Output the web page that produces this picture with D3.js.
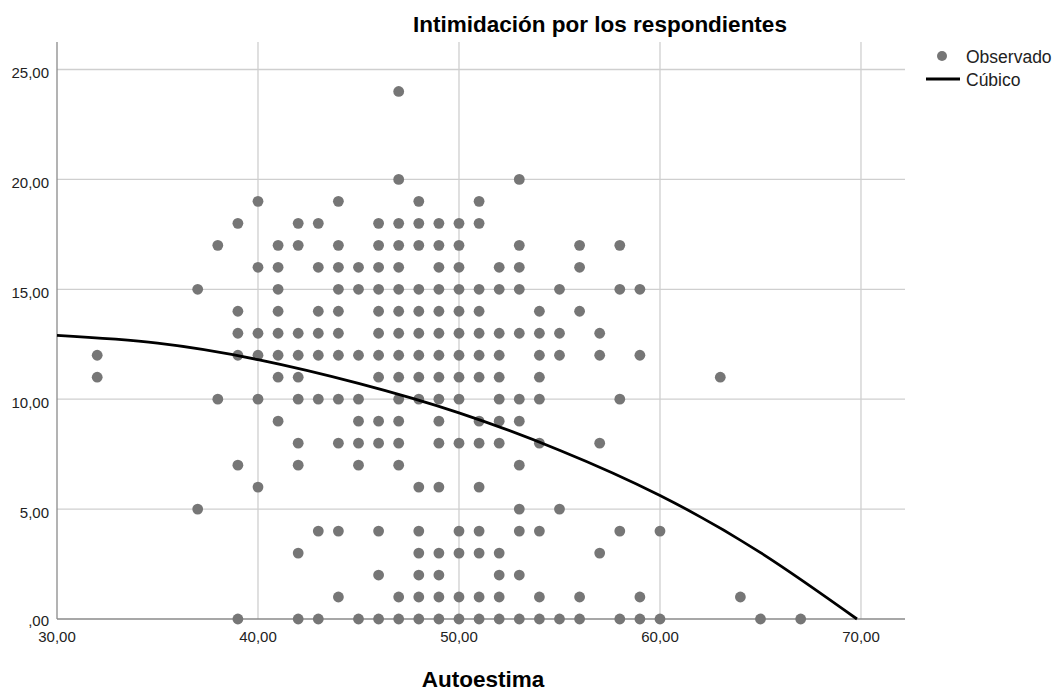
<!DOCTYPE html>
<html>
<head>
<meta charset="utf-8">
<script src="https://cdn.jsdelivr.net/npm/d3@7"></script>
<style>
  body { margin: 0; background: #fff; }
  svg { font-family: "Liberation Sans", Arial, sans-serif; }
</style>
</head>
<body>
<svg id="chart" width="1059" height="693"></svg>
<script>
// observed points, grouped by y value: xs at each y
const rowY = [24, 20, 19, 18, 17, 16, 15, 14, 13, 12, 11, 10, 9, 8, 7, 6, 5, 4, 3, 2, 1, 0];
const rowXs = [
  [47],
  [47, 53],
  [40, 44, 48, 51],
  [39, 42, 43, 46, 47, 48, 49, 50, 51],
  [38, 41, 42, 44, 46, 47, 48, 49, 50, 53, 56, 58],
  [40, 41, 43, 44, 45, 46, 47, 49, 50, 52, 53, 56],
  [37, 41, 44, 45, 46, 47, 48, 49, 50, 51, 52, 53, 55, 58, 59],
  [39, 41, 43, 44, 46, 47, 48, 49, 50, 51, 54, 56],
  [39, 40, 41, 42, 43, 44, 46, 47, 48, 49, 50, 51, 52, 53, 54, 55, 57],
  [32, 39, 40, 41, 42, 43, 44, 45, 46, 47, 48, 49, 50, 51, 52, 54, 55, 57, 59],
  [32, 41, 42, 46, 47, 48, 49, 50, 51, 52, 54, 63],
  [38, 40, 42, 43, 44, 45, 47, 48, 49, 50, 52, 53, 54, 58],
  [41, 45, 46, 47, 49, 51, 52, 53],
  [42, 44, 45, 46, 47, 49, 50, 51, 52, 54, 57],
  [39, 42, 45, 47, 53],
  [40, 48, 49, 51],
  [37, 53, 55],
  [43, 44, 46, 48, 50, 51, 53, 54, 58, 60],
  [42, 48, 49, 50, 51, 52, 57],
  [46, 48, 49, 52, 53],
  [44, 47, 48, 49, 50, 51, 52, 54, 56, 59, 64],
  [39, 42, 43, 45, 46, 47, 48, 49, 50, 51, 52, 53, 54, 55, 56, 58, 59, 60, 65, 67]
];

// cubic fit line
const fitX = [30, 35, 40, 45, 50, 55, 60, 65, 69.8];
const fitY = [12.9, 12.55, 11.8, 10.72, 9.38, 7.68, 5.62, 3.02, 0];

const xTicks = [30, 40, 50, 60, 70];
const yTicks = [0, 5, 10, 15, 20, 25];

const svg = d3.select('#chart');
const L = 57, R = 905, T = 42, B = 619;

const x = d3.scaleLinear().domain([30, 72.19]).range([L, R]);
const y = d3.scaleLinear().domain([0, 26.25]).range([B, T]);
const fmt = v => v === 0 ? ',00' : d3.format('.2f')(v).replace('.', ',');

// grid
svg.append('g').selectAll('line')
  .data(yTicks.filter(d => d > 0)).join('line')
  .attr('x1', L).attr('x2', R)
  .attr('y1', d => y(d)).attr('y2', d => y(d))
  .attr('stroke', '#cfcfcf').attr('stroke-width', 1.3);
svg.append('g').selectAll('line')
  .data(xTicks.filter(d => d > 30)).join('line')
  .attr('x1', d => x(d)).attr('x2', d => x(d))
  .attr('y1', T).attr('y2', B)
  .attr('stroke', '#cfcfcf').attr('stroke-width', 1.3);

// axes lines
svg.append('line').attr('x1', L).attr('x2', L).attr('y1', T).attr('y2', B)
  .attr('stroke', '#8a8a8a').attr('stroke-width', 1.3);
svg.append('line').attr('x1', L).attr('x2', R).attr('y1', B).attr('y2', B)
  .attr('stroke', '#8a8a8a').attr('stroke-width', 1.3);

// tick labels
svg.append('g').selectAll('text')
  .data(yTicks).join('text')
  .attr('x', 49).attr('y', d => y(d) + (d === 0 ? 7 : 9))
  .attr('text-anchor', 'end').attr('font-size', 15).attr('fill', '#222')
  .text(fmt);
svg.append('g').selectAll('text')
  .data(xTicks).join('text')
  .attr('x', d => x(d)).attr('y', 642)
  .attr('text-anchor', 'middle').attr('font-size', 15).attr('fill', '#222')
  .text(fmt);

// points
const pts = rowY.flatMap((v, i) => rowXs[i].map(xv => ({ x: xv, y: v })));
svg.append('g').selectAll('circle')
  .data(pts).join('circle')
  .attr('cx', d => x(d.x)).attr('cy', d => y(d.y))
  .attr('r', 5.4).attr('fill', '#767676');

// fit line
const line = d3.line().x(d => x(d[0])).y(d => y(d[1])).curve(d3.curveNatural);
svg.append('path').datum(fitX.map((v, i) => [v, fitY[i]]))
  .attr('d', line).attr('fill', 'none')
  .attr('stroke', '#000').attr('stroke-width', 2.8);

// title and axis title
svg.append('text').attr('x', 600).attr('y', 32)
  .attr('text-anchor', 'middle').attr('font-size', 22.5).attr('font-weight', 'bold')
  .text('Intimidación por los respondientes');
svg.append('text').attr('x', 483).attr('y', 687)
  .attr('text-anchor', 'middle').attr('font-size', 22.5).attr('font-weight', 'bold')
  .text('Autoestima');

// legend
const lg = svg.append('g').attr('font-size', 17.5).attr('fill', '#222');
lg.append('circle').attr('cx', 942).attr('cy', 56).attr('r', 5).attr('fill', '#767676');
lg.append('text').attr('x', 966).attr('y', 63).text('Observado');
lg.append('line').attr('x1', 926).attr('x2', 960).attr('y1', 79).attr('y2', 79)
  .attr('stroke', '#000').attr('stroke-width', 2.8);
lg.append('text').attr('x', 966).attr('y', 86).text('Cúbico');
</script>
</body>
</html>
